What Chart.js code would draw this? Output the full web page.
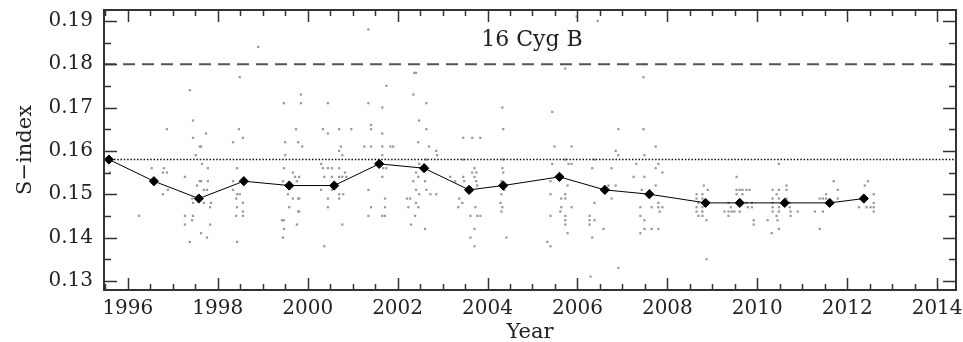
<!DOCTYPE html>
<html>
<head>
<meta charset="utf-8">
<script src="https://cdn.jsdelivr.net/npm/chart.js@4.4.1/dist/chart.umd.min.js"></script>
<style>
  html, body { margin: 0; padding: 0; background: #fff; }
</style>
</head>
<body>
<canvas id="chart" width="963" height="342"></canvas>
<script>

// yearly means (black diamonds)
var meanYear = [1995.58, 1996.58, 1997.58, 1998.58, 1999.59, 2000.59, 2001.59, 2002.59, 2003.59,
                2004.35, 2005.60, 2006.61, 2007.60, 2008.85, 2009.61, 2010.61, 2011.61, 2012.37];
var meanS = [0.158, 0.153, 0.149, 0.153, 0.152, 0.152, 0.157, 0.156, 0.151,
             0.152, 0.154, 0.151, 0.150, 0.148, 0.148, 0.148, 0.148, 0.149];

// individual observations (grey dots), one line per season
var obsYear = [
  1995.60,
  1996.53, 1996.80, 1996.78, 1996.87, 1996.78, 1996.89, 1996.87, 1996.25,
  1997.38, 1997.45, 1997.45, 1997.60, 1997.51, 1997.27, 1997.54, 1997.60, 1997.43, 1997.45, 1997.27, 1997.45, 1997.27, 1997.43, 1997.38, 1997.63, 1997.74, 1997.63, 1997.65, 1997.78, 1997.63, 1997.78, 1997.69, 1997.76, 1997.63, 1997.69, 1997.85, 1997.83, 1997.83, 1997.76,
  1998.49, 1998.47, 1998.56, 1998.34, 1998.43, 1998.34, 1998.34, 1998.43, 1998.49, 1998.41, 1998.56, 1998.43, 1998.41, 1998.56, 1998.56, 1998.43, 1998.90,
  1999.47, 1999.50, 1999.50, 1999.47, 1999.45, 1999.56, 1999.67, 1999.72, 1999.76, 1999.74, 1999.79, 1999.56, 1999.67, 1999.79, 1999.59, 1999.79, 1999.43, 1999.47, 1999.47, 1999.45, 1999.76, 1999.85, 1999.85, 1999.88, 1999.81, 1999.81, 1999.81,
  2000.45, 2000.34, 2000.45, 2000.70, 2000.97, 2000.74, 2000.70, 2000.77, 2000.30, 2000.34, 2000.45, 2000.54, 2000.70, 2000.37, 2000.54, 2000.70, 2000.77, 2000.86, 2000.83, 2000.30, 2000.54, 2000.70, 2000.79, 2000.70, 2000.45, 2000.45, 2000.77, 2000.37,
  2001.35, 2001.75, 2001.35, 2001.66, 2001.41, 2001.41, 2001.66, 2001.26, 2001.41, 2001.66, 2001.84, 2001.90, 2001.66, 2001.68, 2001.75, 2001.66, 2001.35, 2001.72, 2001.72, 2001.41, 2001.35, 2001.66, 2001.72,
  2002.37, 2002.41, 2002.35, 2002.64, 2002.48, 2002.64, 2002.46, 2002.70, 2002.86, 2002.88, 2002.64, 2002.48, 2002.41, 2002.46, 2002.35, 2002.61, 2002.41, 2002.64, 2002.73, 2002.86, 2002.48, 2002.21, 2002.28, 2002.41, 2002.24, 2002.46, 2002.39, 2002.30, 2002.61,
  2003.46, 2003.66, 2003.84, 2003.46, 2003.71, 2003.66, 2003.75, 2003.17, 2003.46, 2003.71, 2003.28, 2003.48, 2003.75, 2003.77, 2003.37, 2003.44, 2003.35, 2003.73, 2003.62, 2003.77, 2003.84, 2003.71, 2003.62, 2003.71,
  2004.33, 2004.35, 2004.35, 2004.33, 2004.35, 2004.31, 2004.37, 2004.31, 2004.29, 2004.33, 2004.31, 2004.42,
  2005.44, 2005.49, 2005.87, 2005.44, 2005.80, 2005.87, 2005.73, 2005.40, 2005.78, 2005.40, 2005.73, 2005.64, 2005.73, 2005.64, 2005.87, 2005.62, 2005.73, 2005.40, 2005.73, 2005.73, 2005.78, 2005.33, 2005.40, 2005.73, 2005.98,
  2006.45, 2006.91, 2006.85, 2006.91, 2006.38, 2006.33, 2006.76, 2006.69, 2006.85, 2006.76, 2006.38, 2006.27, 2006.27, 2006.38, 2006.27, 2006.58, 2006.33, 2006.91, 2006.29,
  2007.47, 2007.47, 2007.47, 2007.74, 2007.49, 2007.80, 2007.31, 2007.74, 2007.89, 2007.25, 2007.49, 2007.74, 2007.43, 2007.40, 2007.65, 2007.80, 2007.80, 2007.89, 2007.83, 2007.40, 2007.49, 2007.49, 2007.65, 2007.80, 2007.40,
  2008.65, 2008.78, 2008.81, 2008.90, 2008.65, 2008.78, 2008.65, 2008.78, 2008.65, 2008.78, 2008.69, 2008.78, 2008.87, 2008.87, 2008.69,
  2009.54, 2009.54, 2009.61, 2009.67, 2009.76, 2009.83, 2009.54, 2009.67, 2009.36, 2009.76, 2009.88, 2009.27, 2009.36, 2009.43, 2009.49, 2009.61, 2009.79, 2009.88, 2009.36, 2009.92, 2009.92, 2009.41,
  2010.34, 2010.43, 2010.34, 2010.34, 2010.34, 2010.34, 2010.23, 2010.32, 2010.48, 2010.48, 2010.43, 2010.48, 2010.48, 2010.48, 2010.48, 2010.45, 2010.65, 2010.65, 2010.65, 2010.72, 2010.72, 2010.74, 2010.74, 2010.90,
  2011.70, 2011.79, 2011.53, 2011.39, 2011.46, 2011.53, 2011.28, 2011.46, 2011.39, 2011.79,
  2012.46, 2012.39, 2012.43, 2012.26, 2012.43, 2012.52, 2012.59, 2012.59, 2012.59, 2012.59
];
var obsS = [
  0.155,
  0.156, 0.156, 0.155, 0.155, 0.150, 0.151, 0.165, 0.145,
  0.174, 0.167, 0.163, 0.161, 0.159, 0.154, 0.152, 0.153, 0.149, 0.148, 0.145, 0.145, 0.143, 0.144, 0.139, 0.141, 0.164, 0.161, 0.157, 0.156, 0.153, 0.153, 0.151, 0.151, 0.149, 0.148, 0.148, 0.147, 0.143, 0.140,
  0.177, 0.165, 0.163, 0.162, 0.156, 0.153, 0.151, 0.150, 0.150, 0.149, 0.148, 0.147, 0.145, 0.146, 0.145, 0.139, 0.184,
  0.171, 0.162, 0.159, 0.156, 0.153, 0.152, 0.155, 0.154, 0.153, 0.165, 0.162, 0.150, 0.149, 0.149, 0.147, 0.146, 0.144, 0.144, 0.142, 0.140, 0.143, 0.173, 0.171, 0.161, 0.154, 0.149, 0.146,
  0.171, 0.165, 0.164, 0.165, 0.165, 0.161, 0.160, 0.159, 0.157, 0.156, 0.156, 0.156, 0.156, 0.154, 0.154, 0.154, 0.154, 0.154, 0.155, 0.151, 0.151, 0.150, 0.150, 0.149, 0.149, 0.147, 0.143, 0.138,
  0.188, 0.175, 0.171, 0.170, 0.166, 0.165, 0.164, 0.161, 0.161, 0.161, 0.161, 0.161, 0.159, 0.156, 0.156, 0.154, 0.151, 0.149, 0.147, 0.147, 0.145, 0.145, 0.145,
  0.178, 0.178, 0.173, 0.171, 0.167, 0.165, 0.162, 0.161, 0.160, 0.159, 0.158, 0.157, 0.155, 0.154, 0.153, 0.153, 0.151, 0.151, 0.150, 0.150, 0.150, 0.149, 0.149, 0.148, 0.147, 0.147, 0.145, 0.143, 0.142,
  0.163, 0.163, 0.163, 0.158, 0.156, 0.155, 0.155, 0.154, 0.154, 0.154, 0.153, 0.153, 0.153, 0.152, 0.149, 0.148, 0.147, 0.147, 0.145, 0.145, 0.145, 0.142, 0.140, 0.138,
  0.170, 0.165, 0.158, 0.156, 0.155, 0.153, 0.151, 0.150, 0.148, 0.147, 0.146, 0.140,
  0.169, 0.161, 0.161, 0.157, 0.157, 0.157, 0.158, 0.153, 0.152, 0.150, 0.150, 0.149, 0.149, 0.147, 0.147, 0.146, 0.145, 0.145, 0.144, 0.143, 0.141, 0.139, 0.138, 0.179, 0.191,
  0.190, 0.165, 0.160, 0.159, 0.158, 0.156, 0.156, 0.152, 0.152, 0.149, 0.148, 0.145, 0.144, 0.144, 0.143, 0.142, 0.140, 0.133, 0.131,
  0.177, 0.180, 0.165, 0.161, 0.159, 0.157, 0.157, 0.156, 0.155, 0.154, 0.154, 0.152, 0.151, 0.147, 0.147, 0.148, 0.147, 0.147, 0.146, 0.145, 0.144, 0.142, 0.142, 0.142, 0.141,
  0.150, 0.150, 0.152, 0.151, 0.149, 0.149, 0.147, 0.147, 0.146, 0.146, 0.145, 0.145, 0.144, 0.135, 0.148,
  0.154, 0.151, 0.151, 0.151, 0.151, 0.151, 0.150, 0.150, 0.148, 0.148, 0.148, 0.146, 0.146, 0.146, 0.146, 0.146, 0.147, 0.147, 0.145, 0.144, 0.143, 0.147,
  0.151, 0.150, 0.149, 0.148, 0.147, 0.146, 0.144, 0.141, 0.157, 0.142, 0.145, 0.151, 0.149, 0.147, 0.146, 0.144, 0.152, 0.151, 0.149, 0.148, 0.147, 0.146, 0.145, 0.146,
  0.153, 0.151, 0.150, 0.149, 0.149, 0.149, 0.146, 0.146, 0.142, 0.149,
  0.153, 0.152, 0.149, 0.147, 0.147, 0.147, 0.150, 0.148, 0.147, 0.146
];

// reference levels: dashed and dotted horizontal lines
var dashedLevel = 0.180;
var dottedLevel = 0.158;

var xTickValues = [1996, 1998, 2000, 2002, 2004, 2006, 2008, 2010, 2012, 2014];
var xTickLabels = ["1996", "1998", "2000", "2002", "2004", "2006", "2008", "2010", "2012", "2014"];
var yTickValues = [0.13, 0.14, 0.15, 0.16, 0.17, 0.18, 0.19];
var yTickLabels = ["0.13", "0.14", "0.15", "0.16", "0.17", "0.18", "0.19"];

var starName = "16 Cyg B";

var xMin = 1995.47, xMax = 2014.42;
var yMin = 0.1279, yMax = 0.1925;

var serif = "'DejaVu Serif', serif";
var textColor = "#222";

function toPoints(xs, ys) {
	var pts = [];
	for (var i = 0; i < xs.length; i++) {
		pts.push({x: xs[i], y: ys[i]});
	}
	return pts;
}

function indexOfValue(list, v) {
	for (var i = 0; i < list.length; i++) {
		if (Math.abs(list[i] - v) < 1e-6) return i;
	}
	return -1;
}

// major + minor ticks, minor ones without label
function buildTicks(step, majors) {
	return function(scale) {
		var ticks = [];
		var k0 = Math.ceil(scale.min / step - 1e-6);
		var k1 = Math.floor(scale.max / step + 1e-6);
		for (var k = k0; k <= k1; k++) {
			var v = +(k * step).toFixed(4);
			ticks.push({value: v, major: indexOfValue(majors, v) >= 0});
		}
		scale.ticks = ticks;
	};
}

// inward ticks on all four sides + frame + star name
var frameTicks = {
	id: 'frameTicks',
	afterDatasetsDraw: function(chart) {
		var c = chart.ctx;
		var a = chart.chartArea;
		var xs = chart.scales.x, ys = chart.scales.y;
		c.save();
		c.strokeStyle = '#333';
		c.lineWidth = 1.5;
		c.beginPath();
		xs.ticks.forEach(function(t) {
			var px = Math.round(xs.getPixelForValue(t.value)) + 0.5;
			var len = t.major ? 12 : 6;
			c.moveTo(px, a.bottom); c.lineTo(px, a.bottom - len);
			c.moveTo(px, a.top); c.lineTo(px, a.top + len);
		});
		ys.ticks.forEach(function(t) {
			var py = Math.round(ys.getPixelForValue(t.value)) + 0.5;
			var len = t.major ? 13 : 7;
			c.moveTo(a.left, py); c.lineTo(a.left + len, py);
			c.moveTo(a.right, py); c.lineTo(a.right - len, py);
		});
		c.stroke();
		c.lineWidth = 2;
		c.strokeRect(a.left, a.top, a.right - a.left, a.bottom - a.top);

		c.fillStyle = textColor;
		c.font = "22px " + serif;
		c.textAlign = 'center';
		c.textBaseline = 'middle';
		c.fillText(starName, (a.left + a.right) / 2 + 2, a.top + 30);
		c.restore();
	}
};

var ctx = document.getElementById('chart');
var chart = new Chart(ctx, {
	type: 'scatter',
	data: {
		datasets: [
			{
				label: 'mean',
				data: toPoints(meanYear, meanS),
				showLine: true,
				borderColor: '#000',
				borderWidth: 1,
				backgroundColor: '#000',
				pointStyle: 'rectRot',
				pointRadius: 4.6,
				pointBorderWidth: 1,
				order: 0
			},
			{
				label: 'dashed',
				data: [{x: xMin, y: dashedLevel}, {x: xMax, y: dashedLevel}],
				showLine: true,
				borderColor: '#555',
				borderWidth: 2,
				borderDash: [12, 7],
				pointRadius: 0,
				order: 1
			},
			{
				label: 'dotted',
				data: [{x: xMin, y: dottedLevel}, {x: xMax, y: dottedLevel}],
				showLine: true,
				borderColor: '#111',
				borderWidth: 1.4,
				borderDash: [1.5, 1.8],
				pointRadius: 0,
				order: 2
			},
			{
				label: 'obs',
				data: toPoints(obsYear, obsS),
				pointStyle: 'rect',
				pointRadius: 1.6,
				backgroundColor: '#9a9a9a',
				borderWidth: 0,
				order: 3
			}
		]
	},
	options: {
		responsive: false,
		animation: false,
		layout: {padding: {top: 10, right: 7, left: 0, bottom: 0}},
		plugins: {
			legend: {display: false},
			tooltip: {enabled: false}
		},
		scales: {
			x: {
				type: 'linear',
				min: xMin,
				max: xMax,
				grid: {display: false, drawTicks: false},
				border: {display: false},
				afterBuildTicks: buildTicks(0.5, xTickValues),
				afterFit: function(s) {
					s.height = 52;
					s.paddingLeft = 0;
					s.paddingRight = 0;
				},
				ticks: {
					autoSkip: false,
					maxRotation: 0,
					padding: 7,
					color: textColor,
					font: {family: serif, size: 20},
					callback: function(v) {
						var i = indexOfValue(xTickValues, v);
						return i >= 0 ? xTickLabels[i] : '';
					}
				},
				title: {
					display: true,
					text: 'Year',
					color: textColor,
					font: {family: serif, size: 21},
					padding: {top: 0, bottom: -3}
				}
			},
			y: {
				type: 'linear',
				min: yMin,
				max: yMax,
				grid: {display: false, drawTicks: false},
				border: {display: false},
				afterBuildTicks: buildTicks(0.005, yTickValues),
				afterFit: function(s) {
					s.width = 104;
					s.paddingTop = 0;
					s.paddingBottom = 0;
				},
				ticks: {
					autoSkip: false,
					padding: 11,
					color: textColor,
					font: {family: serif, size: 20},
					callback: function(v) {
						var i = indexOfValue(yTickValues, v);
						return i >= 0 ? yTickLabels[i] : '';
					}
				},
				title: {
					display: true,
					text: 'S\u2212index',
					color: textColor,
					font: {family: serif, size: 21},
					padding: {top: 13, bottom: 0}
				}
			}
		}
	},
	plugins: [frameTicks]
});

</script>
</body>
</html>
